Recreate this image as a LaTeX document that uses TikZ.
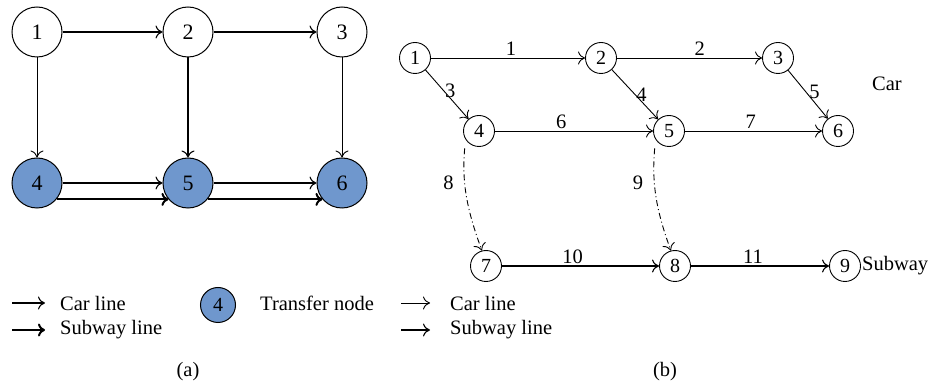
\documentclass[tikz,border=0pt]{standalone}
\usepackage{fontspec}
\setmainfont{Liberation Serif}
\usepackage{tikz}
\usetikzlibrary{arrows,arrows.meta,positioning}
\definecolor{transblue}{RGB}{111,151,205}
\tikzstyle{bignode} = [draw, circle, line width=1pt, minimum size=50pt, inner sep=0pt, font=\fontsize{22}{24}\selectfont]
\tikzstyle{transnode} = [bignode, fill=transblue]
\tikzstyle{smallnode} = [draw, circle, line width=0.9pt, minimum size=31pt, inner sep=0pt, font=\fontsize{20}{22}\selectfont]
\tikzstyle{carline} = [-{To[length=7pt,width=13pt]}, line width=1.1pt]
\tikzstyle{subline} = [-{To[length=7pt,width=13pt]}, line width=2pt]
\tikzstyle{thinline} = [-{To[length=7pt,width=13pt]}, line width=0.9pt]
\tikzstyle{transfer} = [thinline, dash pattern=on 6pt off 3pt on 1pt off 3pt]
\tikzstyle{lab} = [font=\fontsize{20.5}{23}\selectfont, inner sep=2pt]

\begin{document}
\begin{tikzpicture}[x=1pt, y=1pt]
	\useasboundingbox (0,0) rectangle (930,-387);
	% (a) road and subway network
	\node [bignode] (a1) at (37,-32) {1};
	\node [bignode] (a2) at (188,-32) {2};
	\node [bignode] (a3) at (342,-32) {3};
	\node [transnode] (a4) at (37,-183) {4};
	\node [transnode] (a5) at (188,-183) {5};
	\node [transnode] (a6) at (342,-183) {6};
	\draw [carline] (a1) -- (a2);
	\draw [carline] (a2) -- (a3);
	\draw [thinline] (a1) -- (a4);
	\draw [carline] (a2) -- (a5);
	\draw [thinline] (a3) -- (a6);
	\draw [carline] (a4) -- (a5);
	\draw [carline] (a5) -- (a6);
	\draw [subline] (a4.-40) -- (a5.-140);
	\draw [subline] (a5.-40) -- (a6.-140);
	% (b) expanded network
	\node [smallnode] (b1) at (415,-58) {1};
	\node [smallnode] (b2) at (601,-58) {2};
	\node [smallnode] (b3) at (778,-58) {3};
	\node [smallnode] (b4) at (479,-131) {4};
	\node [smallnode] (b5) at (669,-131) {5};
	\node [smallnode] (b6) at (838,-131) {6};
	\node [smallnode] (b7) at (486,-266) {7};
	\node [smallnode] (b8) at (675,-266) {8};
	\node [smallnode] (b9) at (845,-266) {9};
	\node [lab] (car) at (887,-84) {Car};
	\node [lab, anchor=west, inner sep=1pt] (subway) at (b9.east) {Subway};
	\draw [thinline] (b1) -- node [lab, above, pos=0.52] {1} (b2);
	\draw [thinline] (b2) -- node [lab, above, pos=0.57] {2} (b3);
	\draw [thinline] (b1) -- node [lab, anchor=west, pos=0.42, inner sep=1pt] {3} (b4);
	\draw [thinline] (b2) -- node [lab, anchor=west, pos=0.5, inner sep=1pt] {4} (b5);
	\draw [thinline] (b3) -- node [lab, anchor=west, pos=0.45, inner sep=3pt] {5} (b6);
	\draw [thinline] (b4) -- node [lab, above, pos=0.42] {6} (b5);
	\draw [thinline] (b5) -- node [lab, above, pos=0.48] {7} (b6);
	\draw [transfer, shorten <=9pt] (b4.212) to [out=-95, in=110] node [lab, left, pos=0.37, inner sep=11pt] {8} (b7.105);
	\draw [transfer, shorten <=9pt] (b5.212) to [out=-95, in=110] node [lab, left, pos=0.37, inner sep=11pt] {9} (b8.105);
	\draw [carline] (b7) -- node [lab, above, pos=0.45] {10} (b8);
	\draw [carline] (b8) -- node [lab, above, pos=0.45] {11} (b9);
	% legend
	\node [lab, anchor=west, inner sep=0pt] (legcar) at (60,-303) {Car line};
	\node [lab, anchor=west, inner sep=0pt] (legsub) at (60,-330) {Subway line};
	\coordinate (cara) at (12,-303);
	\coordinate (carz) at (45,-303);
	\coordinate (suba) at (12,-330);
	\coordinate (subz) at (45,-330);
	\draw [carline] (cara) -- (carz);
	\draw [subline] (suba) -- (subz);
	\node [transnode, minimum size=35pt, font=\fontsize{20}{22}\selectfont] (legtrans) at (218,-305) {4};
	\node [lab, anchor=west, inner sep=0pt] (legtranstext) at (260,-303) {Transfer node};
	\node [lab, anchor=west, inner sep=0pt] (legcarb) at (450,-303) {Car line};
	\node [lab, anchor=west, inner sep=0pt] (legsubb) at (450,-330) {Subway line};
	\coordinate (carb) at (401,-303);
	\coordinate (carbz) at (430,-303);
	\coordinate (subb) at (401,-330);
	\coordinate (subbz) at (430,-330);
	\draw [thinline] (carb) -- (carbz);
	\draw [carline] (subb) -- (subbz);
	\node [lab] (capa) at (188,-372) {(a)};
	\node [lab] (capb) at (665,-372) {(b)};
\end{tikzpicture}
\end{document}
